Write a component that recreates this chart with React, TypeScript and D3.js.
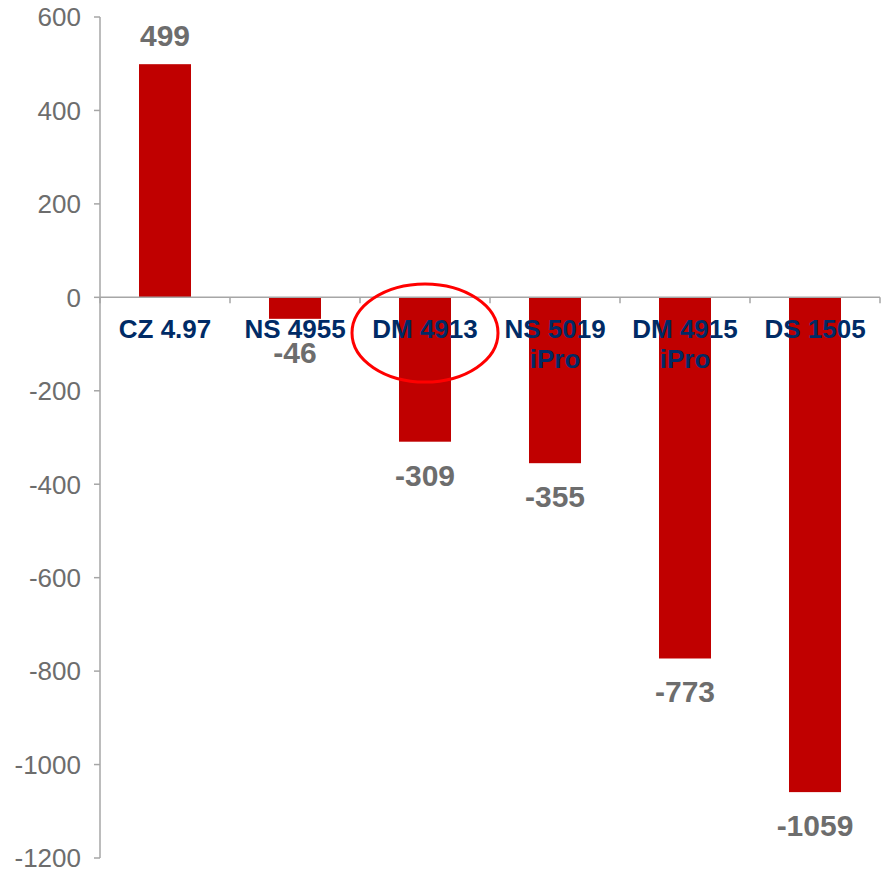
import React from 'react'
import * as d3 from 'd3'

const categories = ['CZ 4.97', 'NS 4955', 'DM 4913', 'NS 5019\niPro', 'DM 4915\niPro', 'DS 1505']
const values = [499, -46, -309, -355, -773, -1059]
const yTicks = [600, 400, 200, 0, -200, -400, -600, -800, -1000, -1200]
const highlighted = 'DM 4913'

const W = 889
const H = 870
const FONT = '"Liberation Sans", Arial, sans-serif'

const x = d3.scaleBand<string>()
  .domain(categories)
  .range([100, 880])
  .paddingInner(0.6)
  .paddingOuter(0.3)

const y = d3.scaleLinear()
  .domain([-1200, 600])
  .range([858, 17])

const App = () => {
  const step = x.step()
  const x0 = 100
  const y0 = y(0)

  return (
    <svg width={W} height={H} style={{ position: 'absolute', left: 0, top: 0, background: '#fff' }}>
      {/* bars */}
      {categories.map((c, i) => {
        const v = values[i]
        return (
          <rect
            key={c}
            x={x(c)}
            y={Math.min(y(v), y0)}
            width={x.bandwidth()}
            height={Math.abs(y(v) - y0)}
            fill="#c00000"
          />
        )
      })}

      {/* y axis */}
      <line x1={x0} x2={x0} y1={y(600)} y2={y(-1200)} stroke="#a6a6a6" strokeWidth={1.5} />
      {yTicks.map((t) => (
        <g key={t}>
          <line x1={x0 - 6} x2={x0} y1={y(t)} y2={y(t)} stroke="#a6a6a6" strokeWidth={1.5} />
          <text
            x={81}
            y={y(t)}
            dy="0.36em"
            textAnchor="end"
            fontFamily={FONT}
            fontSize={26}
            fill="#6d6d6d"
          >
            {t}
          </text>
        </g>
      ))}

      {/* x axis */}
      <line x1={x0} x2={880} y1={y0} y2={y0} stroke="#a6a6a6" strokeWidth={1.5} />
      {d3.range(categories.length + 1).map((i) => (
        <line
          key={i}
          x1={x0 + i * step}
          x2={x0 + i * step}
          y1={y0}
          y2={y0 + 6}
          stroke="#a6a6a6"
          strokeWidth={1.5}
        />
      ))}

      {/* category labels */}
      {categories.map((c) => {
        const cx = (x(c) as number) + x.bandwidth() / 2
        return (
          <text
            key={c}
            x={cx}
            y={338}
            textAnchor="middle"
            fontFamily={FONT}
            fontSize={26}
            fontWeight="bold"
            fill="#002b66"
          >
            {c.split('\n').map((line, j) => (
              <tspan key={j} x={cx} dy={j === 0 ? 0 : 30}>{line}</tspan>
            ))}
          </text>
        )
      })}

      {/* value labels */}
      {categories.map((c, i) => {
        const v = values[i]
        const cx = (x(c) as number) + x.bandwidth() / 2
        return (
          <text
            key={c}
            x={cx}
            y={v >= 0 ? y(v) - 18 : y(v) + 44}
            textAnchor="middle"
            fontFamily={FONT}
            fontSize={30}
            fontWeight="bold"
            fill="#6d6d6d"
          >
            {v}
          </text>
        )
      })}

      {/* highlight ring */}
      <ellipse
        cx={(x(highlighted) as number) + x.bandwidth() / 2}
        cy={333}
        rx={73}
        ry={49}
        fill="none"
        stroke="#ff0000"
        strokeWidth={3}
      />
    </svg>
  )
}

export default App
